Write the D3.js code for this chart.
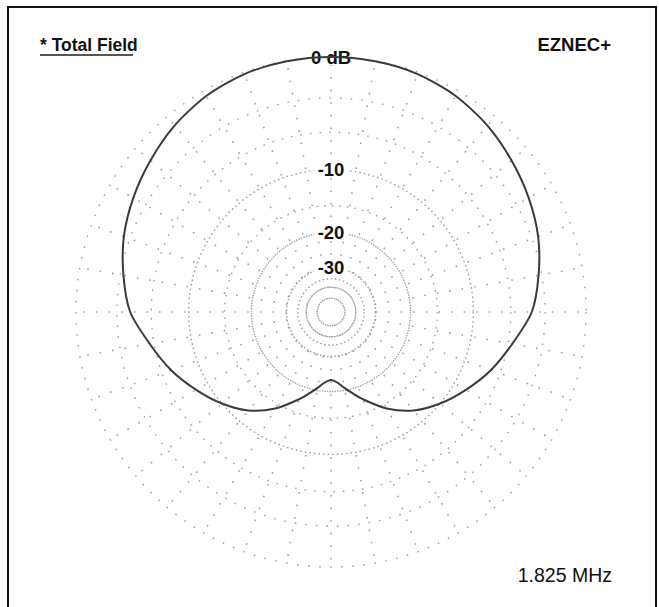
<!DOCTYPE html>
<html>
<head>
<meta charset="utf-8">
<script src="https://cdn.jsdelivr.net/npm/d3@7"></script>
<style>
  body { margin: 0; background: #fff; }
  svg { display: block; }
</style>
</head>
<body>
<svg id="chart" width="659" height="607"></svg>
<script>
// Azimuth pattern, total field (azimuth in degrees clockwise from top, gain in dB)
const azimuths = [0, 10, 20, 30, 40, 50, 60, 70, 80, 90, 100, 110, 120, 130, 140, 150, 160, 165, 170, 175,
                  180, 185, 190, 195, 200, 210, 220, 230, 240, 250, 260, 270, 280, 290, 300, 310, 320, 330, 340, 350];
const gainsDb  = [0, -0.03, -0.12, -0.38, -0.8, -1.35, -1.9, -2.5, -3.27, -4.1, -5.6, -6.95, -8.47, -10.0, -11.75, -14.2, -17.35, -19.0, -20.55, -22.0,
                  -22.7, -22.0, -20.55, -19.0, -17.35, -14.2, -11.75, -10.0, -8.47, -6.95, -5.6, -4.1, -3.27, -2.5, -1.9, -1.35, -0.8, -0.38, -0.12, -0.03];

// Grid rings (dB) and their dot spacing
const ringLevels = [0, -3, -6, -10, -15, -20, -30, -35, -40, -50];
const ringDash   = ["1.6,9.5", "1.6,9", "1.6,8", "1.6,3", "1.6,6", "1.4,1.2", "1.6,2", "1.6,2.5", "2,0.6", "1.6,0.8"];
// Labelled rings
const labelLevels = [0, -10, -20, -30];
const labelTexts  = ["0 dB", "-10", "-20", "-30"];
// Radial grid lines
const spokeAngles = d3.range(0, 360, 10);

const titleText = "* Total Field";
const brandText = "EZNEC+";
const freqText  = "1.825 MHz";

const svg = d3.select("#chart");
const cx = 331, cy = 312, R = 255;
const font = "Liberation Sans, Arial, sans-serif";

// ARRL log scale: radius shrinks by a factor of 0.89 for every 2 dB
const rLin = d3.scaleLinear().domain([0, 1]).range([0, R]);
const r = dB => rLin(Math.pow(0.89, -dB / 2));

// Frame
svg.append("rect")
  .attr("x", 8).attr("y", 7).attr("width", 648).attr("height", 610)
  .attr("fill", "none").attr("stroke", "#111").attr("stroke-width", 2);

const g = svg.append("g").attr("transform", `translate(${cx},${cy})`);

// Spokes
g.append("g").selectAll("line").data(spokeAngles).join("line")
  .attr("x1", d => r(-30) * Math.sin(d * Math.PI / 180))
  .attr("y1", d => -r(-30) * Math.cos(d * Math.PI / 180))
  .attr("x2", d => R * Math.sin(d * Math.PI / 180))
  .attr("y2", d => -R * Math.cos(d * Math.PI / 180))
  .attr("stroke", "#a0a0a0").attr("stroke-width", 1.6)
  .attr("stroke-dasharray", "1.6,11");

// Rings
g.append("g").selectAll("circle").data(ringLevels).join("circle")
  .attr("r", d => r(d))
  .attr("fill", "none")
  .attr("stroke", "#a0a0a0")
  .attr("stroke-width", 1.4)
  .attr("stroke-dasharray", (d, i) => ringDash[i]);

// Ring labels
const lab = g.append("g").selectAll("g").data(labelLevels).join("g")
  .attr("transform", d => `translate(0,${-r(d)})`);
lab.append("rect")
  .attr("x", (d, i) => i === 0 ? -21 : -17).attr("y", -8)
  .attr("width", (d, i) => i === 0 ? 42 : 34).attr("height", 16)
  .attr("fill", "#fff");
lab.append("text")
  .attr("text-anchor", "middle")
  .attr("dy", "0.36em")
  .attr("font-family", font)
  .attr("font-weight", "bold")
  .attr("font-size", 18.5)
  .attr("fill", "#111")
  .text((d, i) => labelTexts[i]);

// Pattern
const pattern = azimuths.map((a, i) => ({ az: a, db: gainsDb[i] }));
const line = d3.lineRadial()
  .angle(d => d.az * Math.PI / 180)
  .radius(d => r(d.db))
  .curve(d3.curveCardinalClosed.tension(0.2));
g.append("path")
  .datum(pattern)
  .attr("d", line)
  .attr("fill", "none")
  .attr("stroke", "#3a3a3a")
  .attr("stroke-width", 2);

// Captions
svg.append("text")
  .attr("transform", "translate(40,51) scale(0.92,1)")
  .attr("font-family", font)
  .attr("font-weight", "bold").attr("font-size", 19).attr("fill", "#111")
  .text(titleText);
svg.append("line")
  .attr("x1", 40).attr("x2", 133).attr("y1", 55).attr("y2", 55)
  .attr("stroke", "#555").attr("stroke-width", 2);
svg.append("text")
  .attr("x", 611).attr("y", 51).attr("text-anchor", "end")
  .attr("font-family", font)
  .attr("font-weight", "bold").attr("font-size", 18.5).attr("fill", "#111")
  .text(brandText);
svg.append("text")
  .attr("x", 612).attr("y", 582).attr("text-anchor", "end")
  .attr("font-family", font)
  .attr("font-size", 19.5).attr("fill", "#111")
  .text(freqText);
</script>
</body>
</html>
